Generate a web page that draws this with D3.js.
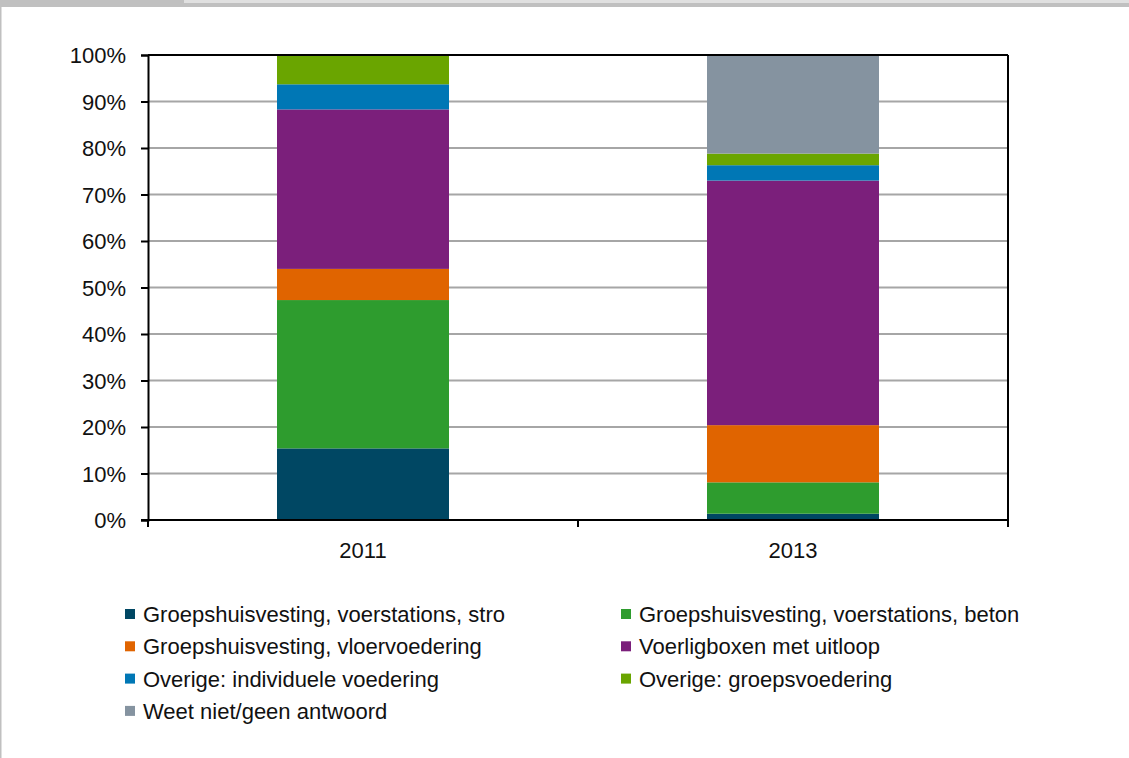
<!DOCTYPE html>
<html><head><meta charset="utf-8">
<script src="https://cdn.jsdelivr.net/npm/d3@7"></script>
<style>
html,body{margin:0;padding:0;background:#fff;}
svg{display:block;}
text{font-family:"Liberation Sans Narrow","Liberation Sans",Arial,sans-serif;fill:#111;}
</style></head>
<body>
<svg id="chart" width="1129" height="758"></svg>
<script>
const years = ["2011", "2013"];
const seriesNames = [
  "Groepshuisvesting, voerstations, stro",
  "Groepshuisvesting, voerstations, beton",
  "Groepshuisvesting, vloervoedering",
  "Voerligboxen met uitloop",
  "Overige: individuele voedering",
  "Overige: groepsvoedering",
  "Weet niet/geen antwoord"
];
const values2011 = [15.4, 31.9, 6.7, 34.3, 5.4, 6.3, 0];
const values2013 = [1.35, 6.75, 12.3, 52.6, 3.3, 2.5, 21.2];
const colors = ["#004763", "#2e9c2e", "#e06400", "#7b1f7b", "#0077b5", "#6aa500", "#8593a0"];
const yTicks = [0, 10, 20, 30, 40, 50, 60, 70, 80, 90, 100];

const svg = d3.select("#chart");
// page frame
svg.append("rect").attr("x",0).attr("y",0).attr("width",1129).attr("height",7).attr("fill","#c0c0c0");
svg.append("rect").attr("x",184).attr("y",0).attr("width",945).attr("height",3).attr("fill","#e0e0e0");
svg.append("rect").attr("x",0).attr("y",7).attr("width",1.5).attr("height",751).attr("fill","#c0c0c0");

const L = 148, R = 1008, T = 55, B = 520;
const x = d3.scaleBand().domain(years).range([L, R]).paddingInner(0.6).paddingOuter(0.3);
const y = d3.scaleLinear().domain([0, 100]).range([B, T]);

// gridlines
svg.append("g").selectAll("line").data(yTicks.filter(d => d > 0 && d < 100)).join("line")
  .attr("x1", L).attr("x2", R).attr("y1", d => y(d)).attr("y2", d => y(d))
  .attr("stroke", "#a6a6a6").attr("stroke-width", 2);

// stacked data
const rows = years.map((yr, i) => {
  const o = {year: yr};
  const vals = i === 0 ? values2011 : values2013;
  seriesNames.forEach((s, j) => o[s] = vals[j]);
  return o;
});
const stack = d3.stack().keys(seriesNames)(rows);
svg.append("g").selectAll("g").data(stack).join("g")
  .attr("fill", (d, i) => colors[i])
  .selectAll("rect").data(d => d).join("rect")
  .attr("x", d => x(d.data.year))
  .attr("width", x.bandwidth())
  .attr("y", d => y(d[1]))
  .attr("height", d => Math.max(0, y(d[0]) - y(d[1])));

// borders
svg.append("line").attr("x1", L).attr("x2", R).attr("y1", T).attr("y2", T).attr("stroke", "#000").attr("stroke-width", 2);
svg.append("line").attr("x1", R).attr("x2", R).attr("y1", T).attr("y2", B + 7).attr("stroke", "#000").attr("stroke-width", 2);

// y axis
const yAxis = svg.append("g").attr("transform", `translate(${L},0)`)
  .call(d3.axisLeft(y).tickValues(yTicks).tickFormat(d => d + "%").tickSize(7).tickPadding(15));
yAxis.select(".domain").attr("stroke", "#000").attr("stroke-width", 2);
yAxis.selectAll(".tick line").attr("stroke", "#000").attr("stroke-width", 2);
yAxis.selectAll("text").attr("font-size", 22).attr("dy", "0.35em")
  .style("font-family", '"Liberation Sans Narrow","Liberation Sans",Arial,sans-serif').attr("fill", "#111");

// x axis
svg.append("line").attr("x1", L - 7).attr("x2", R).attr("y1", B).attr("y2", B).attr("stroke", "#000").attr("stroke-width", 2);
const xTickPos = [L, (L + R) / 2, R];
svg.append("g").selectAll("line").data(xTickPos).join("line")
  .attr("x1", d => d).attr("x2", d => d).attr("y1", B).attr("y2", B + 7)
  .attr("stroke", "#000").attr("stroke-width", 2);
svg.append("g").selectAll("text").data(years).join("text")
  .attr("x", d => x(d) + x.bandwidth() / 2).attr("y", 558)
  .attr("text-anchor", "middle").attr("font-size", 22).text(d => d);

// legend
const lg = svg.append("g");
seriesNames.forEach((s, i) => {
  const col = i % 2, row = Math.floor(i / 2);
  const lx = col === 0 ? 125 : 621;
  const ly = 614 + row * 32.3;
  lg.append("rect").attr("x", lx).attr("y", ly - 5).attr("width", 10).attr("height", 10).attr("fill", colors[i]);
  lg.append("text").attr("x", lx + 18).attr("y", ly + 8).attr("font-size", 22).text(s);
});
</script>
</body></html>
